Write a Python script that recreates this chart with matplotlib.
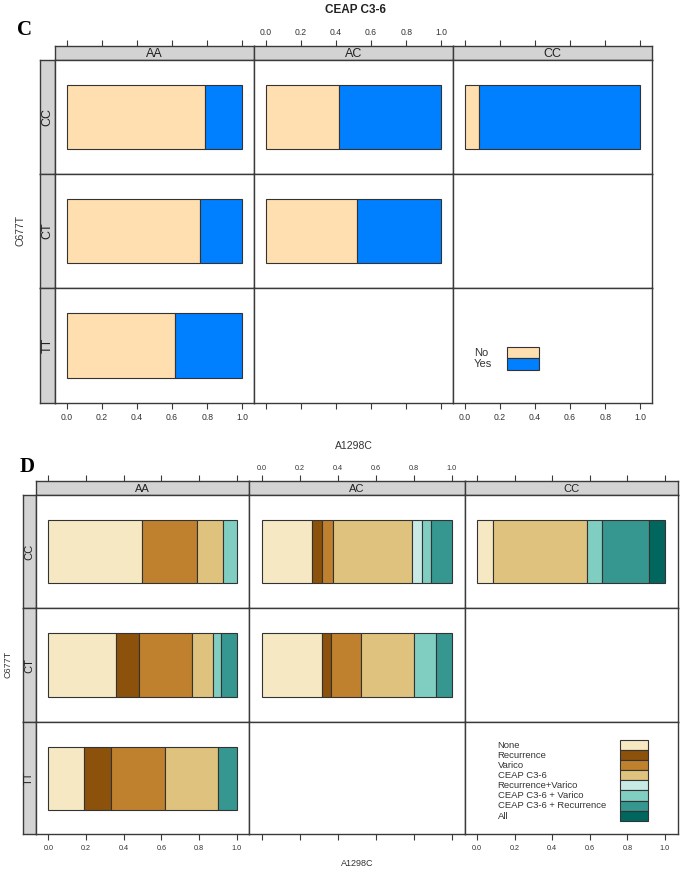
import matplotlib
matplotlib.use("Agg")
import matplotlib.pyplot as plt
from matplotlib.patches import Rectangle

W, H = 680, 869
fig = plt.figure(figsize=(6.8, 8.69), dpi=100)
plt.rcParams['font.family'] = ['Liberation Sans', 'DejaVu Sans']

# ---------------- data ----------------
a1298c = ["AA", "AC", "CC"]          # columns
c677t = ["CC", "CT", "TT"]           # rows, top to bottom
ticks = [0.0, 0.2, 0.4, 0.6, 0.8, 1.0]

# Panel C: CEAP C3-6 (No / Yes)
c_levels = ["No", "Yes"]
c_colors = ["#FFDFAF", "#007FFF"]
c_no_CC = [0.787, 0.418, 0.080]      # row CC, columns AA, AC, CC
c_no_CT = [0.762, 0.520, None]
c_no_TT = [0.619, None, None]
c_no = [c_no_CC, c_no_CT, c_no_TT]

# Panel D: outcome combinations
d_levels = ["None", "Recurrence", "Varico", "CEAP C3-6", "Recurrence+Varico",
            "CEAP C3-6 + Varico", "CEAP C3-6 + Recurrence", "All"]
d_colors = ["#F6E8C3", "#8C510A", "#BF812D", "#DFC27D", "#C7EAE5",
            "#80CDC1", "#35978F", "#01665E"]
d_AA_CC = [0.499, 0.0, 0.288, 0.142, 0.0, 0.071, 0.0, 0.0]
d_AC_CC = [0.262, 0.053, 0.057, 0.416, 0.055, 0.050, 0.107, 0.0]
d_CC_CC = [0.085, 0.0, 0.0, 0.499, 0.0, 0.083, 0.250, 0.083]
d_AA_CT = [0.359, 0.124, 0.278, 0.115, 0.0, 0.041, 0.083, 0.0]
d_AC_CT = [0.317, 0.044, 0.159, 0.280, 0.0, 0.117, 0.083, 0.0]
d_AA_TT = [0.189, 0.145, 0.288, 0.280, 0.0, 0.0, 0.098, 0.0]
d_props = [[d_AA_CC, d_AC_CC, d_CC_CC],
           [d_AA_CT, d_AC_CT, None],
           [d_AA_TT, None, None]]

# ---------------- helpers ----------------
def rect(x0, y0, x1, y1):
    return [x0 / W, 1 - y1 / H, (x1 - x0) / W, (y1 - y0) / H]

XLIM = (-0.067, 1.067)
FRAME = "#3a3a3a"
STRIPC = "#D3D3D3"


def style_frame(ax, lw=1.0):
    for s in ax.spines.values():
        s.set_color(FRAME)
        s.set_linewidth(lw)


def draw_block(cols, rows, strip_top, rstrip_left, props_fn, colors,
               tick_fs, strip_fs, title_fs):
    axes = {}
    nr, nc = len(rows) - 1, len(cols) - 1
    for j in range(nc):
        # column strip (top)
        sax = fig.add_axes(rect(cols[j], strip_top, cols[j + 1], rows[0]))
        sax.set_facecolor(STRIPC)
        sax.set_xlim(*XLIM)
        sax.set_ylim(0, 1)
        sax.set_yticks([])
        sax.xaxis.set_ticks_position("top")
        sax.set_xticks(ticks)
        if j == 1:
            sax.set_xticklabels([f"{t:.1f}" for t in ticks], fontsize=tick_fs, color="#333333")
        else:
            sax.set_xticklabels([])
        sax.tick_params(axis="x", direction="out", length=4.5, width=0.8,
                        color=FRAME, pad=2)
        sax.text(0.5, 0.45, a1298c[j], transform=sax.transAxes, ha="center",
                 va="center", fontsize=strip_fs, color="#222222")
        style_frame(sax)
    for i in range(nr):
        # row strip (left)
        rax = fig.add_axes(rect(rstrip_left, rows[i], cols[0], rows[i + 1]))
        rax.set_facecolor(STRIPC)
        rax.set_xticks([]); rax.set_yticks([])
        rax.text(0.5, 0.5, c677t[i], transform=rax.transAxes, ha="center",
                 va="center", rotation=90, fontsize=strip_fs, color="#222222")
        style_frame(rax)
        for j in range(nc):
            ax = fig.add_axes(rect(cols[j], rows[i], cols[j + 1], rows[i + 1]))
            ax.set_xlim(*XLIM)
            ax.set_ylim(0, 1)
            ax.set_yticks([])
            if i == nr - 1:
                ax.set_xticks(ticks)
                if j != 1:
                    ax.set_xticklabels([f"{t:.1f}" for t in ticks], fontsize=tick_fs, color="#333333")
                else:
                    ax.set_xticklabels([])
                ax.tick_params(axis="x", direction="out", length=4.5, width=0.8,
                               color=FRAME, pad=3)
            else:
                ax.set_xticks([])
            style_frame(ax)
            vals = props_fn(i, j)
            if vals is not None:
                left = 0.0
                for v, c in zip(vals, colors):
                    if v > 0:
                        ax.barh(0.5, v, left=left, height=0.56, color=c,
                                edgecolor="#333333", linewidth=0.8)
                    left += v
            axes[(i, j)] = ax
    return axes


# ---------------- Panel C ----------------
cols_C = [55, 254, 453, 652]
rows_C = [60, 174, 288, 403]


def c_fn(i, j):
    v = c_no[i][j]
    return None if v is None else [v, 1 - v]


axC = draw_block(cols_C, rows_C, 46, 40, c_fn, c_colors, 6.2, 9, 9)
fig.text(355 / W, 1 - 10 / H, "CEAP C3-6", ha="center", va="center",
         fontsize=8.5, fontweight="bold", color="#222222")
fig.text(25 / W, 1 - 30 / H, "C", ha="center", va="center", fontsize=15,
         fontweight="bold", family="Liberation Serif")
fig.text(20 / W, 1 - 231 / H, "C677T", ha="center", va="center", rotation=90,
         fontsize=7.5, color="#333333")
fig.text(354 / W, 1 - 446 / H, "A1298C", ha="center", va="center",
         fontsize=7.5, color="#333333")

# legend C in empty panel (CC col, TT row)
legC = fig.add_axes(rect(470, 340, 545, 375))
legC.set_xlim(470, 545); legC.set_ylim(375, 340); legC.axis("off")
for k, (lab, col) in enumerate(zip(c_levels, c_colors)):
    y0 = 346.7 + k * 11.6
    legC.add_patch(Rectangle((506.7, y0), 32.6, 11.6, facecolor=col,
                             edgecolor="#333333", linewidth=0.8))
    legC.text(474, y0 + 6.0, lab, ha="left", va="center", fontsize=8,
              color="#333333")

# ---------------- Panel D ----------------
cols_D = [35.7, 249.3, 464.5, 677.5]
rows_D = [495, 608.3, 722, 834.3]


def d_fn(i, j):
    return d_props[i][j]


axD = draw_block(cols_D, rows_D, 481, 22.7, d_fn, d_colors, 5.2, 8, 8)
fig.text(27 / W, 1 - 467 / H, "D", ha="center", va="center", fontsize=15,
         fontweight="bold", family="Liberation Serif")
fig.text(8 / W, 1 - 664 / H, "C677T", ha="center", va="center", rotation=90,
         fontsize=6.5, color="#333333")
fig.text(357 / W, 1 - 864 / H, "A1298C", ha="center", va="center",
         fontsize=6.5, color="#333333")

legD = fig.add_axes(rect(490, 735, 660, 825))
legD.set_xlim(490, 660); legD.set_ylim(825, 735); legD.axis("off")
for k, (lab, col) in enumerate(zip(d_levels, d_colors)):
    y0 = 740 + k * 10.1
    legD.add_patch(Rectangle((620, y0), 27.7, 10.1, facecolor=col,
                             edgecolor="#333333", linewidth=0.8))
    legD.text(497.7, y0 + 5.4, lab, ha="left", va="center", fontsize=6.8,
              color="#333333")

fig.savefig("out.png", dpi=100)
